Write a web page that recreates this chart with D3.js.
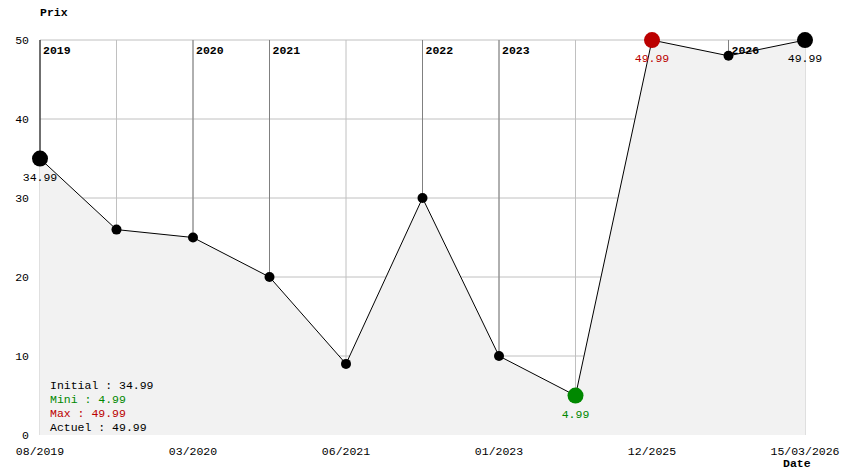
<!DOCTYPE html><html><head><meta charset="utf-8"><script src="https://cdn.jsdelivr.net/npm/d3@7"></script>
<style>body{margin:0;background:#fff}text{font-family:"Liberation Mono","DejaVu Sans Mono",monospace;font-size:11.5px}</style></head><body><svg id="c" width="844" height="474"></svg><script>
const prices=[34.99,26,25,20,9,30,10,4.99,49.99,48,49.99];
const xLabels=["08/2019","","03/2020","","06/2021","","01/2023","","12/2025","","15/03/2026"];
const years=[{i:0,y:"2019"},{i:2,y:"2020"},{i:3,y:"2021"},{i:5,y:"2022"},{i:6,y:"2023"},{i:9,y:"2026"}];
const yTicks=[0,10,20,30,40,50];
const svg=d3.select("#c");
const x=d3.scaleLinear().domain([0,prices.length-1]).range([40,805]);
const y=d3.scaleLinear().domain([0,50]).range([435,40]);
svg.selectAll(".hg").data(yTicks.slice(1)).enter().append("line")
 .attr("x1",40).attr("x2",805).attr("y1",d=>y(d)).attr("y2",d=>y(d)).attr("stroke","#c0c0c0");
svg.selectAll(".vg").data(prices).enter().append("line")
 .attr("x1",(d,i)=>x(i)).attr("x2",(d,i)=>x(i)).attr("y1",y(50)).attr("y2",y(0)).attr("stroke","#c0c0c0");
svg.append("path").datum(prices).attr("fill","#f2f2f2")
 .attr("d",d3.area().x((d,i)=>x(i)).y0(y(0)).y1(d=>y(d)));
years.forEach(o=>{
 svg.append("line").attr("x1",x(o.i)).attr("x2",x(o.i)).attr("y1",y(50)).attr("y2",y(prices[o.i])).attr("stroke",o.i==0?"#000":"#808080");
 svg.append("text").attr("x",x(o.i)+3).attr("y",54).attr("font-weight","bold").text(o.y);
});
svg.selectAll(".yt").data(yTicks).enter().append("text").attr("x",29).attr("y",d=>y(d)+4).attr("text-anchor","end").text(d=>d);
svg.selectAll(".xt").data(xLabels).enter().append("text").attr("x",(d,i)=>x(i)).attr("y",455).attr("text-anchor","middle").text(d=>d);
svg.append("text").attr("x",40).attr("y",16).attr("font-weight","bold").text("Prix");
svg.append("text").attr("x",783).attr("y",467).attr("font-weight","bold").text("Date");
svg.append("path").datum(prices).attr("fill","none").attr("stroke","#000")
 .attr("d",d3.line().x((d,i)=>x(i)).y(d=>y(d)));
const mn=d3.min(prices),mx=d3.max(prices),iMn=prices.indexOf(mn),iMx=prices.indexOf(mx),last=prices.length-1;
prices.forEach((d,i)=>{
 let r=5,c="#000";
 if(i==0||i==last){r=8}
 if(i==iMn){r=8;c="#008800"}
 if(i==iMx){r=8;c="#bb0000"}
 svg.append("circle").attr("cx",x(i)).attr("cy",y(d)).attr("r",r).attr("fill",c);
});
[[0,"#000"],[iMn,"#008800"],[iMx,"#bb0000"],[last,"#000"]].forEach(([i,c])=>{
 svg.append("text").attr("x",x(i)).attr("y",y(prices[i])+22).attr("text-anchor","middle").attr("fill",c).text(prices[i].toFixed(2));
});
const leg=[["Initial : "+prices[0],"#000"],["Mini : "+mn,"#008800"],["Max : "+mx,"#bb0000"],["Actuel : "+prices[last],"#000"]];
leg.forEach((l,k)=>svg.append("text").attr("x",50).attr("y",389+k*14).attr("fill",l[1]).text(l[0]));
</script></body></html>
